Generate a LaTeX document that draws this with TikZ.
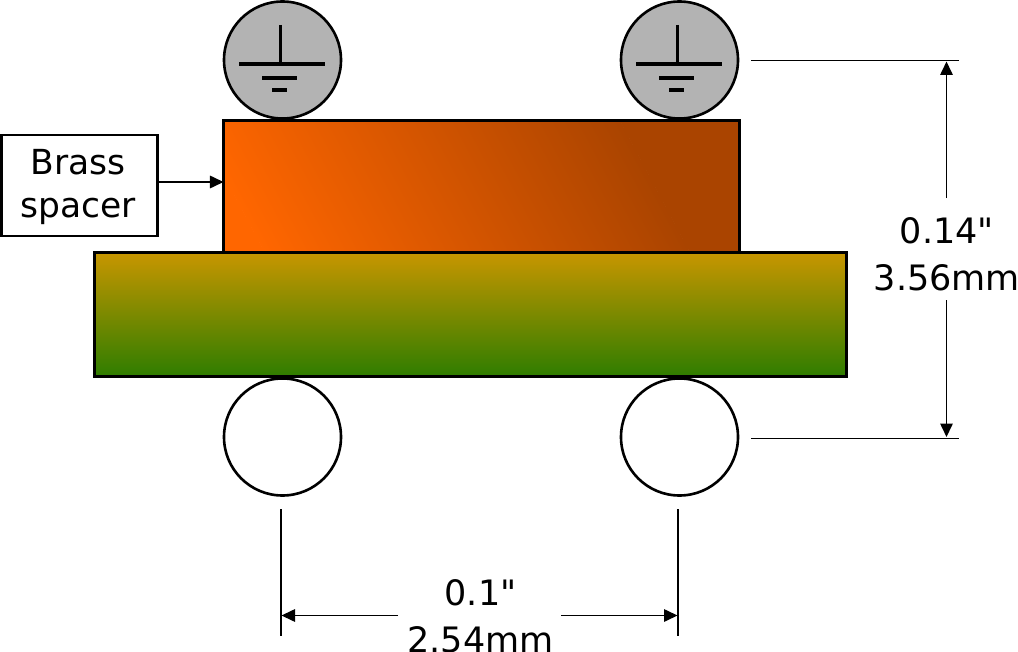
\documentclass[tikz,border=0pt]{standalone}
\usepackage{fontspec}
\newfontfamily\dvfont{DejaVu Sans}
\usetikzlibrary{arrows.meta,calc}
\definecolor{brassA}{HTML}{FF6600}
\definecolor{brassB}{HTML}{AA4400}
\definecolor{boardA}{HTML}{C89600}
\definecolor{boardB}{HTML}{2F7D00}
\definecolor{pad}{HTML}{B3B3B3}
\tikzset{
  pin/.style={circle,draw=black,line width=2.6bp,minimum size=117bp,inner sep=0pt,outer sep=0pt},
  gnd/.style={draw=black,line width=3.2bp},
  slab/.style={rectangle,draw=black,line width=3bp,inner sep=0pt,outer sep=0pt},
  dimline/.style={draw=black,line width=1.6bp},
  dimarrow/.style={draw=black,line width=1.6bp,-{Triangle[length=13.5bp,width=12.5bp]}},
  dimtext/.style={font=\dvfont\fontsize{35bp}{47bp}\selectfont,align=center,inner sep=0pt,outer sep=0pt}
}
\begin{document}
\begin{tikzpicture}[x=1bp,y=-1bp]
\useasboundingbox (0,0) rectangle (1018,652);
\begin{scope}
  \clip (223.5,120.5) rectangle (739.5,252);
  \begin{scope}[transform canvas={shift={(446,193.5)},rotate=28}]
     \fill[brassA] (-900,-600) rectangle (-187.5,600);
     \fill[brassB] (187.5,-600) rectangle (900,600);
     \shade[left color=brassA,right color=brassB] (-188,-600) rectangle (188,600);
  \end{scope}
\end{scope}
\node[slab,minimum width=516bp,minimum height=131.5bp] (spacer) at (481.5,186.25) {};
\node[slab,minimum width=752bp,minimum height=124bp,top color=boardA,bottom color=boardB] (board) at (470.85,314.3) {};
\node[pin,fill=pad] (pinTL) at (282.5,60) {};
\node[pin,fill=pad] (pinTR) at (679.5,60) {};
\node[pin,fill=white] (pinBL) at (282.5,437) {};
\node[pin,fill=white] (pinBR) at (679.5,437) {};
\foreach \c in {pinTL,pinTR}{
  \draw[gnd] ($(\c)+(-1.8,-35)$) -- ($(\c)+(-1.8,4)$);
  \draw[gnd] ($(\c)+(-43.5,4)$) -- ($(\c)+(42.5,4)$);
  \draw[gnd] ($(\c)+(-20.5,18)$) -- ($(\c)+(14.5,18)$);
  \draw[gnd] ($(\c)+(-10.5,30)$) -- ($(\c)+(4.5,30)$);
}
\node[rectangle,draw=black,line width=2.2bp,minimum width=156bp,minimum height=101bp,inner sep=0pt,outer sep=0pt,fill=white] (label) at (79.5,185.5) {};
\node[font=\dvfont\fontsize{34.5bp}{43bp}\selectfont,align=center,inner sep=0pt,outer sep=0pt] (labeltext) at (78,187.5) {Brass\\spacer};
\draw[dimarrow] (label.east |- 0,182) coordinate (labelOut) -- (spacer.west |- labelOut);
\node[dimtext] (hdim) at (947,254) {0.14"\\3.56mm};
\coordinate (hTopL) at (751,60.5);
\coordinate (hTopR) at (959,60.5);
\coordinate (hBotL) at (751,438.5);
\coordinate (hBotR) at (959,438.5);
\coordinate (hArrowT) at (946.5,61.5);
\coordinate (hArrowB) at (946.5,437);
\coordinate (hGapT) at (946.5,198);
\coordinate (hGapB) at (946.5,300);
\draw[dimline] (hTopL) -- (hTopR);
\draw[dimline] (hBotL) -- (hBotR);
\draw[dimarrow] (hGapT) -- (hArrowT);
\draw[dimarrow] (hGapB) -- (hArrowB);
\node[dimtext] (wdim) at (480.5,616.5) {0.1"\\2.54mm};
\coordinate (wLT) at (281,509);
\coordinate (wLB) at (281,636);
\coordinate (wRT) at (678,509);
\coordinate (wRB) at (678,636);
\coordinate (wArrowL) at (281.5,615.5);
\coordinate (wArrowR) at (677.5,615.5);
\coordinate (wGapL) at (398,615.5);
\coordinate (wGapR) at (561,615.5);
\draw[dimline] (wLT) -- (wLB);
\draw[dimline] (wRT) -- (wRB);
\draw[dimarrow] (wGapL) -- (wArrowL);
\draw[dimarrow] (wGapR) -- (wArrowR);
\end{tikzpicture}
\end{document}
